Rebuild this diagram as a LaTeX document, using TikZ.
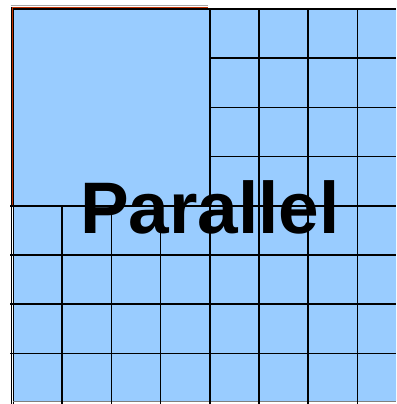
\documentclass[tikz,border=0pt]{standalone}
\usepackage{fontspec}
\setmainfont{Liberation Sans}
\definecolor{cellblue}{HTML}{99CCFF}
\definecolor{edgered}{HTML}{C03000}
\begin{document}
\begin{tikzpicture}[x=1pt,y=-1pt,
  gridline/.style={black,line width=1.6pt},
  label/.style={font=\fontsize{73}{88}\bfseries\selectfont,inner sep=0pt,anchor=base}]
\useasboundingbox (0,0) rectangle (396,404);
\clip (0,0) rectangle (396,404);
% background fill
\fill[cellblue] (13,9) rectangle (400,401);
% outer halo of big square
\draw[gray!70,line width=1pt] (10.5,5.5) -- (208,5.5);
\draw[black,line width=1pt] (11,7) -- (11,404);
\draw[edgered,line width=1.2pt] (12.3,7.2) -- (208,7.2);
\draw[edgered,line width=1.2pt] (12.3,7.2) -- (12.3,205);
% top edge
\draw[gridline] (13,9) -- (396,9);
% left edge
\draw[gridline] (13.5,9) -- (13.5,404);
% right-hand upper block horizontals
\foreach \y in {58.2,107.4,156.6} \draw[gridline] (209.8,\y) -- (396,\y);
% full width horizontals
\foreach \y in {205.8,255,304.2,353.4} \draw[gridline] (10,\y) -- (396,\y);
\draw[gray,line width=0.8pt] (13,401.5) -- (396,401.5);
% verticals
\foreach \x in {209.8,259,308.2,357.4} \draw[gridline] (\x,9) -- (\x,404);
\foreach \x in {62.2,111.4,160.6} \draw[gridline] (\x,205.8) -- (\x,404);
% label
\node[label] (par) at (210,233) {Parallel};
\end{tikzpicture}
\end{document}
